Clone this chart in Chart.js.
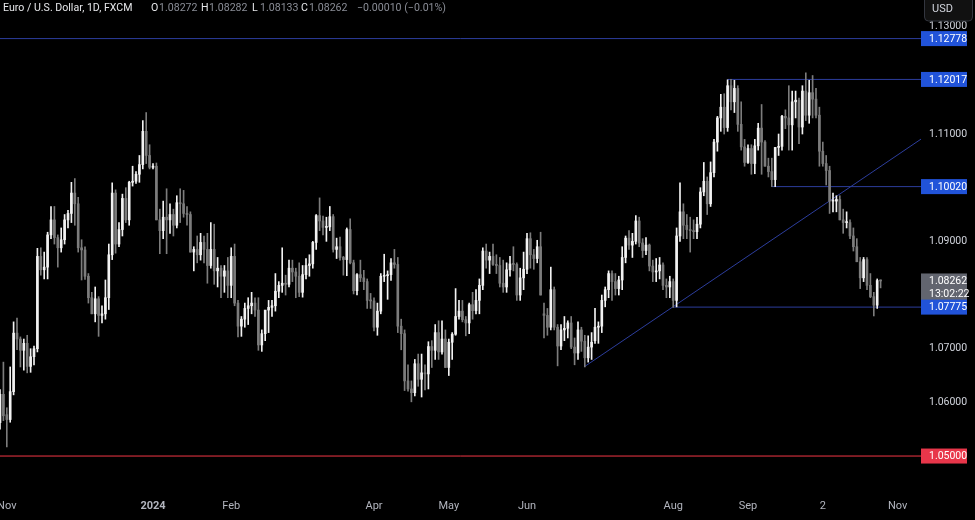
<!DOCTYPE html>
<html>
<head>
<meta charset="utf-8">
<script src="https://cdn.jsdelivr.net/npm/chart.js@4.4.1/dist/chart.umd.min.js"></script>
<style>
  html, body { margin: 0; padding: 0; background: #000; }
  #wrap { width: 975px; height: 520px; }
</style>
</head>
<body>
<div id="wrap"><canvas id="chart" width="975" height="520"></canvas></div>
<script>
// EUR/USD daily, FXCM - one bar per weekday starting Mon 30 Oct 2023 (index 0) to Fri 25 Oct 2024
var opens = [
  1.0562,1.0615,1.0577,1.0568,1.0620,1.0729,1.0718,1.0697,1.0710,1.0667,
  1.0685,1.0700,1.0872,1.0847,1.0852,1.0912,1.0940,1.0907,1.0888,1.0903,
  1.0940,1.0952,1.0990,1.0970,1.0888,1.0884,1.0835,1.0795,1.0765,1.0793,
  1.0762,1.0765,1.0795,1.0875,1.0990,1.0895,1.0922,1.0980,1.0940,1.1010,
  1.1012,1.1025,1.1043,1.1105,1.1060,1.1038,1.1040,1.0940,1.0920,1.0945,
  1.0940,1.0950,1.0930,1.0972,1.0970,1.0952,1.0950,1.0880,1.0885,1.0875,
  1.0898,1.0885,1.0855,1.0885,1.0845,1.0850,1.0835,1.0845,1.0818,1.0872,
  1.0785,1.0742,1.0755,1.0775,1.0780,1.0785,1.0772,1.0707,1.0728,1.0772,
  1.0777,1.0780,1.0807,1.0818,1.0822,1.0820,1.0850,1.0843,1.0835,1.0805,
  1.0838,1.0855,1.0858,1.0898,1.0948,1.0938,1.0926,1.0927,1.0946,1.0885,
  1.0890,1.0870,1.0866,1.0922,1.0860,1.0808,1.0838,1.0832,1.0825,1.0790,
  1.0789,1.0740,1.0770,1.0835,1.0836,1.0838,1.0860,1.0857,1.0742,1.0728,
  1.0640,1.0625,1.0618,1.0672,1.0643,1.0655,1.0653,1.0704,1.0697,1.0730,
  1.0694,1.0718,1.0665,1.0712,1.0727,1.0760,1.0770,1.0754,1.0748,1.0782,
  1.0771,1.0790,1.0818,1.0882,1.0865,1.0872,1.0857,1.0855,1.0822,1.0815,
  1.0847,1.0858,1.0857,1.0800,1.0832,1.0848,1.0905,1.0875,1.0868,1.0890,
  1.0765,1.0762,1.0740,1.0810,1.0740,1.0705,1.0735,1.0738,1.0748,1.0703,
  1.0692,1.0735,1.0714,1.0683,1.0703,1.0715,1.0740,1.0742,1.0790,1.0810,
  1.0840,1.0825,1.0812,1.0828,1.0870,1.0906,1.0893,1.0900,1.0938,1.0897,
  1.0883,1.0893,1.0854,1.0843,1.0845,1.0856,1.0818,1.0815,1.0825,1.0790,
  1.0910,1.0955,1.0930,1.0922,1.0920,1.0918,1.0932,1.0992,1.1012,1.0970,
  1.1028,1.1085,1.1130,1.1150,1.1112,1.1190,1.1160,1.1185,1.1118,1.1076,
  1.1047,1.1073,1.1045,1.1078,1.1111,1.1085,1.1040,1.1030,1.1015,1.1075,
  1.1077,1.1133,1.1130,1.1117,1.1160,1.1163,1.1113,1.1180,1.1135,1.1177,
  1.1165,1.1135,1.1068,1.1045,1.1032,1.0975,1.0975,1.0978,1.0940,1.0935,
  1.0935,1.0910,1.0890,1.0862,1.0832,1.0866,1.0818,1.0797,1.0781,1.08272
];
var highs = [
  1.0624,1.0675,1.0590,1.0666,1.0750,1.0757,1.0722,1.0718,1.0725,1.0700,
  1.0705,1.0887,1.0888,1.0880,1.0917,1.0965,1.0965,1.0912,1.0925,1.0950,
  1.0958,1.1010,1.1017,1.0982,1.0903,1.0890,1.0840,1.0805,1.0815,1.0797,
  1.0780,1.0828,1.0895,1.1009,1.0996,1.0935,1.0988,1.1000,1.1012,1.1040,
  1.1030,1.1060,1.1125,1.1140,1.1080,1.1045,1.1046,1.0960,1.0975,1.0998,
  1.0970,1.0960,1.0985,1.0998,1.0995,1.0965,1.0955,1.0890,1.0910,1.0915,
  1.0910,1.0915,1.0935,1.0932,1.0870,1.0855,1.0855,1.0870,1.0888,1.0895,
  1.0790,1.0760,1.0785,1.0795,1.0805,1.0795,1.0795,1.0735,1.0770,1.0790,
  1.0790,1.0840,1.0825,1.0888,1.0837,1.0865,1.0865,1.0850,1.0860,1.0855,
  1.0868,1.0875,1.0900,1.0950,1.0981,1.0947,1.0945,1.0965,1.0950,1.0906,
  1.0908,1.0872,1.0925,1.0942,1.0865,1.0840,1.0865,1.0846,1.0830,1.0803,
  1.0795,1.0785,1.0840,1.0876,1.0845,1.0868,1.0885,1.0870,1.0755,1.0735,
  1.0670,1.0640,1.0680,1.0690,1.0690,1.0670,1.0713,1.0715,1.0745,1.0752,
  1.0752,1.0735,1.0718,1.0730,1.0812,1.0790,1.0790,1.0760,1.0785,1.0805,
  1.0810,1.0830,1.0888,1.0895,1.0880,1.0895,1.0875,1.0870,1.0865,1.0860,
  1.0872,1.0890,1.0860,1.0850,1.0880,1.0915,1.0916,1.0885,1.0902,1.0917,
  1.0785,1.0775,1.0852,1.0815,1.0745,1.0745,1.0760,1.0752,1.0760,1.0720,
  1.0750,1.0740,1.0725,1.0724,1.0730,1.0775,1.0750,1.0800,1.0815,1.0845,
  1.0845,1.0840,1.0835,1.0890,1.0910,1.0920,1.0915,1.0948,1.0945,1.0905,
  1.0907,1.0895,1.0865,1.0868,1.0870,1.0860,1.0830,1.0835,1.0830,1.0925,
  1.1009,1.0970,1.0950,1.0945,1.0940,1.0945,1.1000,1.1047,1.1020,1.1048,
  1.1090,1.1133,1.1174,1.1175,1.1201,1.1202,1.1200,1.1190,1.1160,1.1090,
  1.1080,1.1080,1.1090,1.1120,1.1155,1.1088,1.1055,1.1055,1.1075,1.1100,
  1.1135,1.1145,1.1190,1.1180,1.1180,1.1167,1.1190,1.1214,1.1200,1.1209,
  1.1185,1.1150,1.1085,1.1060,1.1040,1.0990,1.0985,1.0985,1.0960,1.0955,
  1.0940,1.0925,1.0905,1.0870,1.0870,1.0870,1.0840,1.0805,1.0830,1.08282
];
var lows = [
  1.0550,1.0566,1.0517,1.0563,1.0614,1.0698,1.0666,1.0660,1.0655,1.0656,
  1.0670,1.0694,1.0837,1.0830,1.0830,1.0905,1.0895,1.0852,1.0880,1.0895,
  1.0925,1.0935,1.0930,1.0880,1.0828,1.0829,1.0785,1.0765,1.0750,1.0723,
  1.0748,1.0755,1.0773,1.0866,1.0878,1.0890,1.0910,1.0935,1.0930,1.1003,
  1.1008,1.1010,1.1035,1.1045,1.1035,1.1035,1.0940,1.0877,1.0905,1.0877,
  1.0915,1.0910,1.0925,1.0935,1.0945,1.0930,1.0880,1.0845,1.0860,1.0865,
  1.0860,1.0822,1.0850,1.0820,1.0815,1.0795,1.0805,1.0795,1.0795,1.0780,
  1.0722,1.0723,1.0740,1.0745,1.0765,1.0760,1.0697,1.0695,1.0715,1.0730,
  1.0760,1.0770,1.0795,1.0805,1.0800,1.0815,1.0825,1.0795,1.0797,1.0796,
  1.0830,1.0835,1.0850,1.0885,1.0920,1.0912,1.0900,1.0920,1.0880,1.0868,
  1.0865,1.0837,1.0836,1.0858,1.0802,1.0800,1.0825,1.0810,1.0775,1.0775,
  1.0733,1.0725,1.0765,1.0825,1.0792,1.0827,1.0850,1.0730,1.0698,1.0622,
  1.0621,1.0601,1.0612,1.0630,1.0610,1.0623,1.0625,1.0665,1.0680,1.0680,
  1.0690,1.0665,1.0650,1.0680,1.0725,1.0755,1.0750,1.0724,1.0728,1.0755,
  1.0765,1.0765,1.0810,1.0850,1.0840,1.0855,1.0840,1.0815,1.0805,1.0805,
  1.0835,1.0845,1.0790,1.0790,1.0810,1.0840,1.0850,1.0848,1.0860,1.0800,
  1.0720,1.0725,1.0735,1.0735,1.0668,1.0698,1.0715,1.0720,1.0700,1.0670,
  1.0680,1.0695,1.0666,1.0675,1.0680,1.0710,1.0710,1.0730,1.0778,1.0795,
  1.0790,1.0800,1.0800,1.0810,1.0860,1.0885,1.0870,1.0895,1.0890,1.0870,
  1.0875,1.0845,1.0825,1.0825,1.0830,1.0810,1.0795,1.0795,1.0777,1.0778,
  1.0900,1.0905,1.0905,1.0880,1.0905,1.0905,1.0925,1.0985,1.0950,1.0965,
  1.1020,1.1068,1.1105,1.1100,1.1105,1.1145,1.1140,1.1105,1.1070,1.1040,
  1.1045,1.1025,1.1026,1.1070,1.1025,1.1040,1.1020,1.1002,1.1002,1.1060,
  1.1070,1.1110,1.1070,1.1070,1.1130,1.1082,1.1100,1.1125,1.1120,1.1130,
  1.1130,1.1040,1.1040,1.1005,1.0952,1.0955,1.0955,1.0940,1.0915,1.0925,
  1.0905,1.0882,1.0862,1.0812,1.0825,1.0810,1.0795,1.0761,1.0775,1.08133
];
var closes = [
  1.0615,1.0575,1.0568,1.0620,1.0729,1.0718,1.0697,1.0710,1.0667,1.0685,
  1.0700,1.0872,1.0847,1.0852,1.0912,1.0940,1.0907,1.0888,1.0903,1.0940,
  1.0952,1.0990,1.0970,1.0888,1.0884,1.0835,1.0795,1.0765,1.0793,1.0762,
  1.0765,1.0795,1.0875,1.0990,1.0895,1.0922,1.0980,1.0940,1.1010,1.1012,
  1.1025,1.1043,1.1105,1.1060,1.1038,1.1040,1.0940,1.0920,1.0945,1.0940,
  1.0950,1.0930,1.0972,1.0970,1.0952,1.0950,1.0880,1.0885,1.0875,1.0898,
  1.0885,1.0855,1.0885,1.0845,1.0850,1.0835,1.0845,1.0818,1.0872,1.0785,
  1.0742,1.0755,1.0775,1.0780,1.0785,1.0772,1.0707,1.0728,1.0772,1.0777,
  1.0780,1.0807,1.0818,1.0822,1.0820,1.0850,1.0843,1.0835,1.0805,1.0838,
  1.0855,1.0858,1.0898,1.0948,1.0938,1.0926,1.0927,1.0946,1.0885,1.0890,
  1.0870,1.0866,1.0922,1.0860,1.0808,1.0838,1.0832,1.0825,1.0790,1.0789,
  1.0740,1.0770,1.0835,1.0836,1.0838,1.0860,1.0857,1.0742,1.0728,1.0640,
  1.0625,1.0618,1.0672,1.0643,1.0655,1.0653,1.0704,1.0697,1.0730,1.0694,
  1.0718,1.0665,1.0712,1.0727,1.0760,1.0770,1.0754,1.0748,1.0782,1.0771,
  1.0790,1.0818,1.0882,1.0865,1.0872,1.0857,1.0855,1.0822,1.0815,1.0847,
  1.0858,1.0857,1.0800,1.0832,1.0848,1.0905,1.0875,1.0868,1.0890,1.0800,
  1.0762,1.0740,1.0810,1.0740,1.0705,1.0735,1.0738,1.0748,1.0703,1.0692,
  1.0735,1.0714,1.0683,1.0703,1.0712,1.0740,1.0742,1.0790,1.0810,1.0840,
  1.0825,1.0812,1.0828,1.0870,1.0906,1.0893,1.0900,1.0938,1.0897,1.0883,
  1.0893,1.0854,1.0843,1.0845,1.0856,1.0818,1.0815,1.0825,1.0790,1.0910,
  1.0955,1.0930,1.0922,1.0920,1.0918,1.0932,1.0992,1.1012,1.0970,1.1028,
  1.1085,1.1130,1.1150,1.1112,1.1190,1.1160,1.1185,1.1118,1.1076,1.1047,
  1.1073,1.1045,1.1078,1.1111,1.1085,1.1040,1.1030,1.1015,1.1075,1.1077,
  1.1133,1.1130,1.1117,1.1160,1.1163,1.1113,1.1180,1.1135,1.1177,1.1165,
  1.1135,1.1068,1.1045,1.1032,1.0975,1.0975,1.0978,1.0940,1.0935,1.0935,
  1.0910,1.0890,1.0862,1.0832,1.0866,1.0818,1.0797,1.0781,1.0827,1.08262
];

// bottom axis: bar index of the labelled day and its text
var tickIdx = [2, 45, 68, 110, 132, 155, 198, 220, 242, 264];
var tickText = ['Nov', '2024', 'Feb', 'Apr', 'May', 'Jun', 'Aug', 'Sep', '2', 'Nov'];
var priceTicks = [1.06, 1.07, 1.09, 1.11, 1.13];

// drawn levels: [price, first bar index]
var levelPrices = [1.12778, 1.12017, 1.10020, 1.07775];
var levelStart = [0, 214, 227, 198];
var redLevel = 1.05000;
// trendline through the June and August lows
var trendIdx = [172, 271];
var trendPrice = [1.0667, 1.1091];

var lastClose = 1.08262;
var countdown = '13:02:22';
var lastBar = 270;

var upColor = '#f2f2f2';
var downColor = '#7c7c7c';
var lineBlue = '#2c3d9c';
var font = 'Roboto';

var colors = opens.map(function (o, i) { return closes[i] >= o ? upColor : downColor; });

var datasets = [];
datasets.push({
  type: 'bar', label: 'body', order: 1, grouped: false,
  data: opens.map(function (o, i) { return { x: i, y: [o, closes[i]] }; }),
  backgroundColor: colors, barThickness: 2, minBarLength: 1, borderWidth: 0
});
datasets.push({
  type: 'bar', label: 'wick', order: 1, grouped: false,
  data: lows.map(function (l, i) { return { x: i, y: [l, highs[i]] }; }),
  backgroundColor: colors, barThickness: 1, borderWidth: 0
});
levelPrices.forEach(function (p, k) {
  datasets.push({
    type: 'line', order: 3, borderColor: lineBlue, borderWidth: 1, pointRadius: 0, clip: 4,
    data: [{ x: levelStart[k], y: p }, { x: lastBar + 1, y: p }]
  });
});
datasets.push({
  type: 'line', order: 3, borderColor: '#f23645', borderWidth: 1, pointRadius: 0, clip: 4,
  data: [{ x: 0, y: redLevel }, { x: lastBar + 1, y: redLevel }]
});
datasets.push({
  type: 'line', order: 3, borderColor: lineBlue, borderWidth: 1, pointRadius: 0, clip: 3,
  data: [{ x: trendIdx[0], y: trendPrice[0] }, { x: trendIdx[1], y: trendPrice[1] }]
});

function tag(ctx, x, y, h, bg, lines) {
  ctx.fillStyle = bg;
  ctx.fillRect(x, y - h / 2, 46, h);
  ctx.fillStyle = '#ffffff';
  ctx.font = '10.5px ' + font;
  ctx.textBaseline = 'middle';
  ctx.textAlign = 'left';
  lines.forEach(function (t, k) {
    ctx.fillText(t, x + 8, y - (lines.length - 1) * 6.5 + k * 13 + 0.5);
  });
}

var overlay = {
  id: 'overlay',
  beforeDraw: function (chart) {
    var ctx = chart.ctx;
    ctx.save();
    ctx.fillStyle = '#000';
    ctx.fillRect(0, 0, chart.width, chart.height);
    ctx.restore();
  },
  afterDraw: function (chart) {
    var ctx = chart.ctx;
    var y = chart.scales.y;
    var bx = chart.chartArea.right + 3;
    ctx.save();
    // price tags on the axis
    levelPrices.forEach(function (p) {
      if (p === 1.07775) return;
      tag(ctx, bx, y.getPixelForValue(p), 15, '#2153d9', [p.toFixed(5)]);
    });
    tag(ctx, bx, y.getPixelForValue(lastClose) + 6.5, 28, '#62656f', [lastClose.toFixed(5), countdown]);
    tag(ctx, bx, y.getPixelForValue(1.07775), 15, '#2153d9', ['1.07775']);
    tag(ctx, bx, y.getPixelForValue(redLevel), 15, '#e8364a', [redLevel.toFixed(5)]);

    // currency box
    ctx.fillStyle = '#111111';
    ctx.strokeStyle = '#33363f';
    ctx.lineWidth = 1;
    ctx.beginPath();
    ctx.roundRect(924.5, -4, 48, 25, 4);
    ctx.fill();
    ctx.stroke();
    ctx.fillStyle = '#d1d4dc';
    ctx.font = '11px ' + font;
    ctx.textBaseline = 'middle';
    ctx.fillText('USD', 932, 9);

    // symbol legend
    ctx.font = '10.6px ' + font;
    ctx.fillStyle = '#e6e7ea';
    ctx.fillText('Euro / U.S. Dollar, 1D, FXCM', 3, 8);
    var parts = [['O', 151, '1.08272'], ['H', 201, '1.08282'], ['L', 252, '1.08133'], ['C', 301, '1.08262']];
    parts.forEach(function (p) {
      ctx.fillStyle = '#e6e7ea';
      ctx.fillText(p[0], p[1], 8);
      ctx.fillStyle = '#8a8d96';
      ctx.fillText(p[2], p[1] + 8, 8);
    });
    ctx.fillText('\u22120.00010 (\u22120.01%)', 357, 8);
    ctx.restore();
  }
};

new Chart(document.getElementById('chart'), {
  type: 'bar',
  data: { datasets: datasets },
  options: {
    responsive: false,
    animation: false,
    events: [],
    layout: { padding: 0 },
    plugins: { legend: { display: false }, tooltip: { enabled: false } },
    scales: {
      x: {
        type: 'linear', min: 0, max: lastBar, offset: false,
        grid: { display: false, drawTicks: false }, border: { display: false },
        afterBuildTicks: function (axis) { axis.ticks = tickIdx.map(function (v) { return { value: v }; }); },
        afterFit: function (axis) { axis.height = 28; axis.paddingLeft = 0; axis.paddingRight = 0; },
        ticks: {
          autoSkip: false, maxRotation: 0, padding: 8, color: '#b2b5be',
          font: function (c) { return { family: font, size: 11, weight: c.index === 1 ? 'bold' : 'normal' }; },
          callback: function (v, i) { return tickText[i]; }
        }
      },
      y: {
        position: 'right', min: 1.0433, max: 1.13497,
        grid: { display: false, drawTicks: false }, border: { display: false },
        afterBuildTicks: function (axis) { axis.ticks = priceTicks.map(function (v) { return { value: v }; }); },
        afterFit: function (axis) { axis.width = 57; axis.paddingTop = 0; axis.paddingBottom = 0; },
        ticks: {
          padding: 11, color: '#d1d4dc', font: { family: font, size: 10.5 },
          callback: function (v) { return v.toFixed(5); }
        }
      }
    }
  },
  plugins: [overlay]
});
</script>
</body>
</html>
